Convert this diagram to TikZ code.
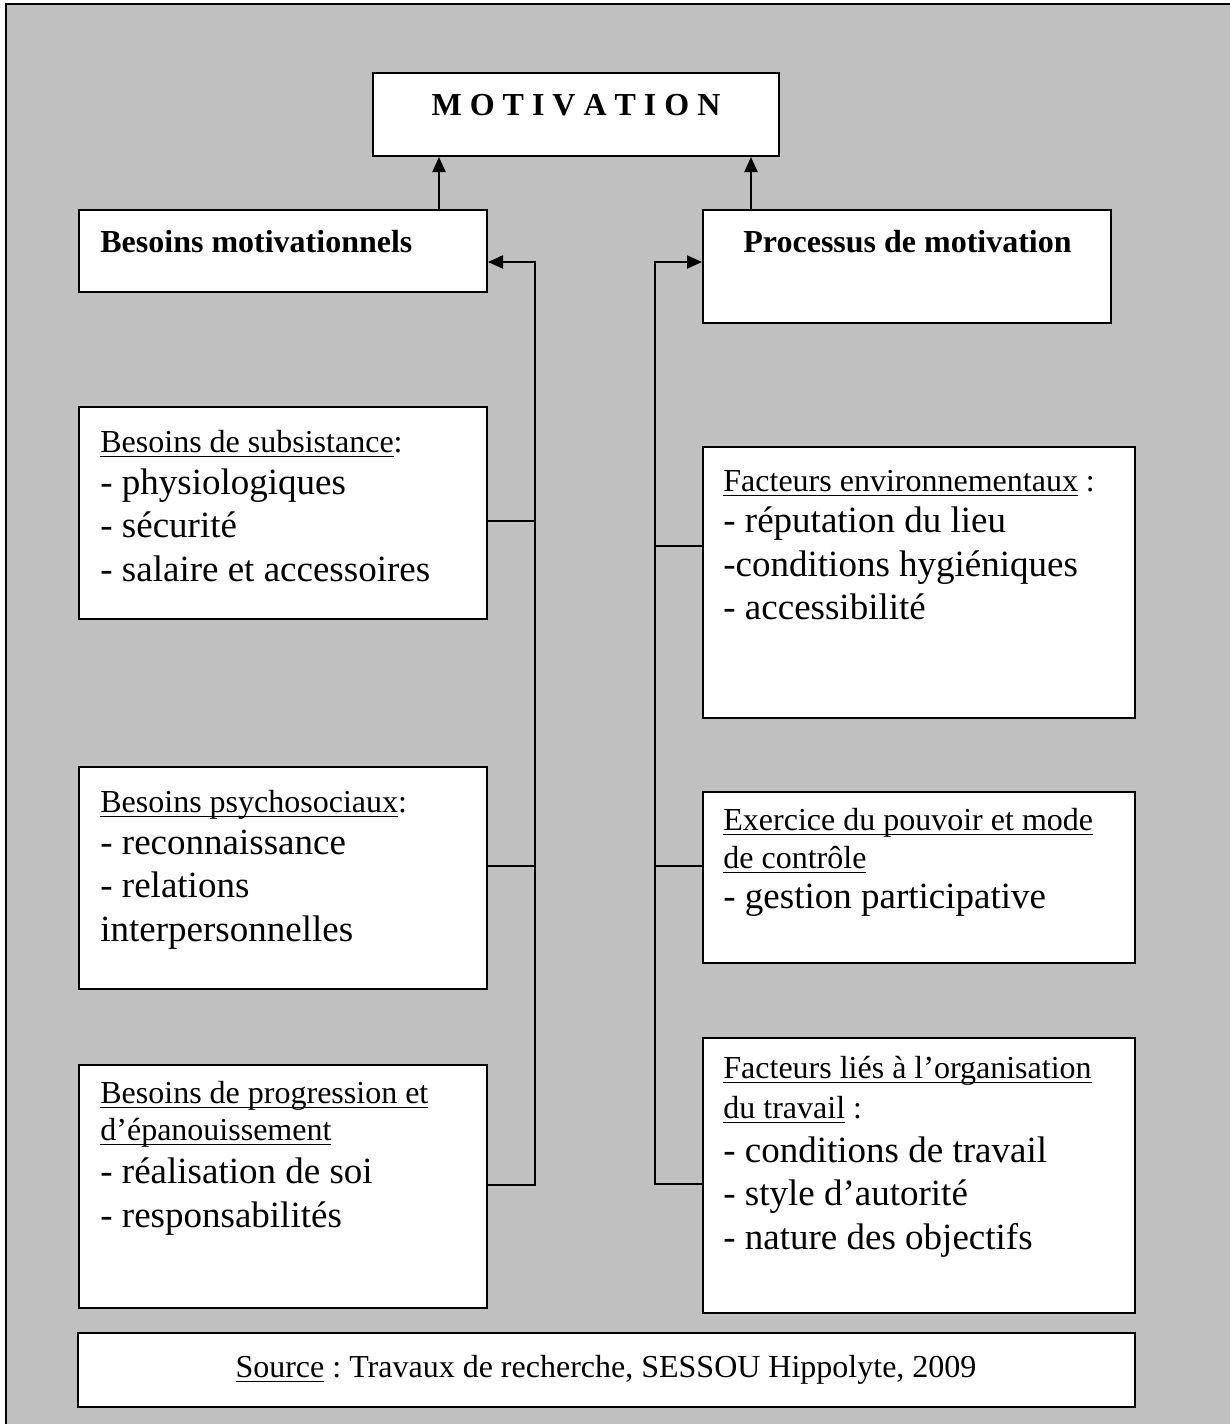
\documentclass[tikz,border=0pt]{standalone}
\usepackage{fontspec}
\setmainfont{Liberation Serif}
\usepackage{tikz}
\usetikzlibrary{arrows.meta, positioning}
\definecolor{bggray}{RGB}{192,192,192}
\frenchspacing
\newsavebox{\ulbox}
\newcommand{\uln}[1]{\sbox{\ulbox}{#1}\rlap{\rule[-2.4pt]{\wd\ulbox}{0.6pt}}\usebox{\ulbox}}
\newcommand{\hd}{\fontsize{16}{21.75}\selectfont}

\begin{document}
\begin{tikzpicture}[
    x=0.5pt, y=-0.5pt,
    box/.style={rectangle, draw, fill=white, line width=1pt, inner sep=0pt},
    lbox/.style={box, minimum width=204pt},
    rbox/.style={box, minimum width=216pt},
    txt/.style={anchor=north west, inner sep=0pt, align=left, font=\fontsize{18.5}{21.75}\selectfont},
    head/.style={inner sep=0pt, font=\fontsize{16}{20}\selectfont\bfseries},
    link/.style={line width=1pt},
    >={Triangle[length=7.5pt, width=6.5pt]}
]
\useasboundingbox (0,0) rectangle (1230,1424);

% fond gris et cadre
\fill[bggray] (6,4) rectangle (1230,1424);
\draw[line width=1.2pt] (6,1424) -- (6,4) -- (1230,4);

% boites du haut
\node[box, minimum width=203pt, minimum height=41.5pt] (motiv) at (576,114.5) {};
\node[head, anchor=base] (motiv-t) at (576,115) {M O T I V A T I O N};
\node[lbox, minimum height=41pt] (besmot) at (283,251) {};
\node[head, anchor=base west] (besmot-t) at (100,252) {Besoins motivationnels};
\node[box, minimum width=204pt, minimum height=56.5pt] (procmot) at (907,266.5) {};
\node[head, anchor=base west] (procmot-t) at (743,252) {Processus de motivation};

% besoins (gauche)
\node[lbox, minimum height=106pt] (subsist) at (283,513) {};
\node[txt] (subsist-t) at (100,430) {{\hd\uln{Besoins de subsistance}:}\\[-1pt]
    - physiologiques\\
    - sécurité\\
    - salaire et accessoires};
\node[lbox, minimum height=111pt] (psycho) at (283,878) {};
\node[txt] (psycho-t) at (100,790) {{\hd\uln{Besoins psychosociaux}:}\\[-1pt]
    - reconnaissance\\
    - relations\\
    interpersonnelles};
\node[lbox, minimum height=121.5pt] (progres) at (283,1186.5) {};
\node[txt] (progres-t) at (100,1081) {{\hd\uln{Besoins de progression et}}\\[-3.25pt]
    {\hd\uln{d’épanouissement}}\\[-0.25pt]
    - réalisation de soi\\
    - responsabilités};

% facteurs (droite)
\node[rbox, minimum height=135.5pt] (envir) at (919,582.5) {};
\node[txt] (envir-t) at (723,470) {{\hd\uln{Facteurs environnementaux} :}\\[-1.25pt]
    - réputation du lieu\\
    -conditions hygiéniques\\
    - accessibilité};
\node[rbox, minimum height=85.5pt] (pouvoir) at (919,877.5) {};
\node[txt] (pouvoir-t) at (723,808) {{\hd\uln{Exercice du pouvoir et mode}}\\[-2.75pt]
    {\hd\uln{de contrôle}}\\[-1.75pt]
    - gestion participative};
\node[rbox, minimum height=137.5pt] (organis) at (919,1175.5) {};
\node[txt] (organis-t) at (723,1056) {{\hd\uln{Facteurs liés à l’organisation}}\\[-1.75pt]
    {\hd\uln{du travail} :}\\
    - conditions de travail\\
    - style d’autorité\\
    - nature des objectifs};

% source
\node[box, minimum width=528.5pt, minimum height=37pt] (source) at (606.5,1370) {};
\node[inner sep=0pt, anchor=base, font=\fontsize{16}{20}\selectfont] (source-t) at (606,1377)
    {\uln{Source} : Travaux de recherche, SESSOU Hippolyte, 2009};

% fleches vers MOTIVATION
\coordinate (la) at (439,0);
\coordinate (ra) at (751,0);
\draw[link, ->] (besmot.north -| la) -- (motiv.south -| la);
\draw[link, ->] (procmot.north -| ra) -- (motiv.south -| ra);

% bus gauche
\coordinate (lb) at (535,262);
\draw[link, ->] (progres.east |- 0,1185) -| (lb) -- (besmot.east |- lb);
\draw[link] (subsist.east |- 0,521) -- (lb |- 0,521);
\draw[link] (psycho.east |- 0,866) -- (lb |- 0,866);

% bus droit
\coordinate (rb) at (655,262);
\draw[link, ->] (organis.west |- 0,1184) -| (rb) -- (procmot.west |- rb);
\draw[link] (envir.west |- 0,546) -- (rb |- 0,546);
\draw[link] (pouvoir.west |- 0,866) -- (rb |- 0,866);

\end{tikzpicture}
\end{document}
